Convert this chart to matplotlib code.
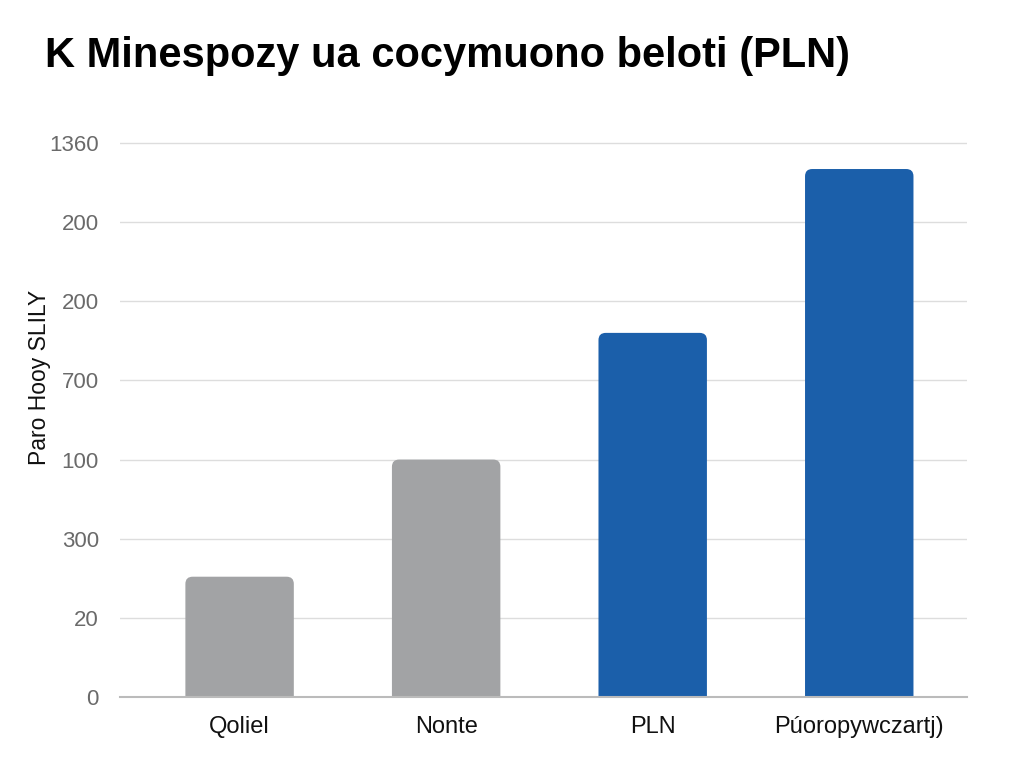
import matplotlib
matplotlib.use("Agg")
import matplotlib.pyplot as plt
from matplotlib.patches import FancyBboxPatch

categories = ["Qoliel", "Nonte", "PLN", "Púoropywczartj)"]
# bar heights expressed in axis grid units (each gridline = 1 unit)
values = [1.52, 3.0, 4.6, 6.67]
tick_positions = [0, 1, 2, 3, 4, 5, 6, 7]
tick_labels = ["0", "20", "300", "100", "700", "200", "200", "1360"]
colors = ["#A2A3A5", "#A2A3A5", "#1B5FAA", "#1B5FAA"]

plt.rcParams['font.family'] = ['Liberation Sans', 'DejaVu Sans']

fig = plt.figure(figsize=(10.24, 7.68), dpi=100)
ax = fig.add_axes([0.117, 0.0924, 0.827, 0.737])

x = list(range(len(categories)))
bars = ax.bar(x, values, width=0.525, color=colors, zorder=3)

ax.set_xlim(-0.58, 3.52)
ax.set_ylim(0, 7.15)

# replace rectangles by slightly rounded boxes
for b in bars:
    bx, by, bw, bh = b.get_x(), b.get_y(), b.get_width(), b.get_height()
    fb = FancyBboxPatch((bx, by - 0.2), bw, bh + 0.2,
                        boxstyle="round,pad=0,rounding_size=0.035",
                        mutation_aspect=2.6, facecolor=b.get_facecolor(),
                        edgecolor="none", zorder=3, clip_on=True)
    b.set_visible(False)
    ax.add_patch(fb)

ax.set_yticks(tick_positions)
ax.set_yticklabels(tick_labels, fontsize=16, color="#6A6A6A")
ax.set_xticks(x)
ax.set_xticklabels(categories, fontsize=17, color="#111111")
ax.tick_params(axis='both', length=0)
ax.tick_params(axis='y', pad=15)
ax.tick_params(axis='x', pad=14)

ax.grid(axis='y', color="#DDDDDD", linewidth=1, zorder=0)
for s in ["top", "right", "left"]:
    ax.spines[s].set_visible(False)
ax.spines["bottom"].set_color("#BBBBBB")
ax.spines["bottom"].set_linewidth(1.5)
ax.spines["bottom"].set_zorder(4)

fig.text(0.039, 0.508, "Paro Hooy SLILY", rotation=90, fontsize=16.5,
         color="#111111", ha="center", va="center")
fig.text(0.044, 0.927, "K Minespozy ua cocymuono beloti (PLN)", fontsize=30,
         fontweight="bold", color="#000000", ha="left", va="center")

fig.savefig("out.png", dpi=100, facecolor="white")
